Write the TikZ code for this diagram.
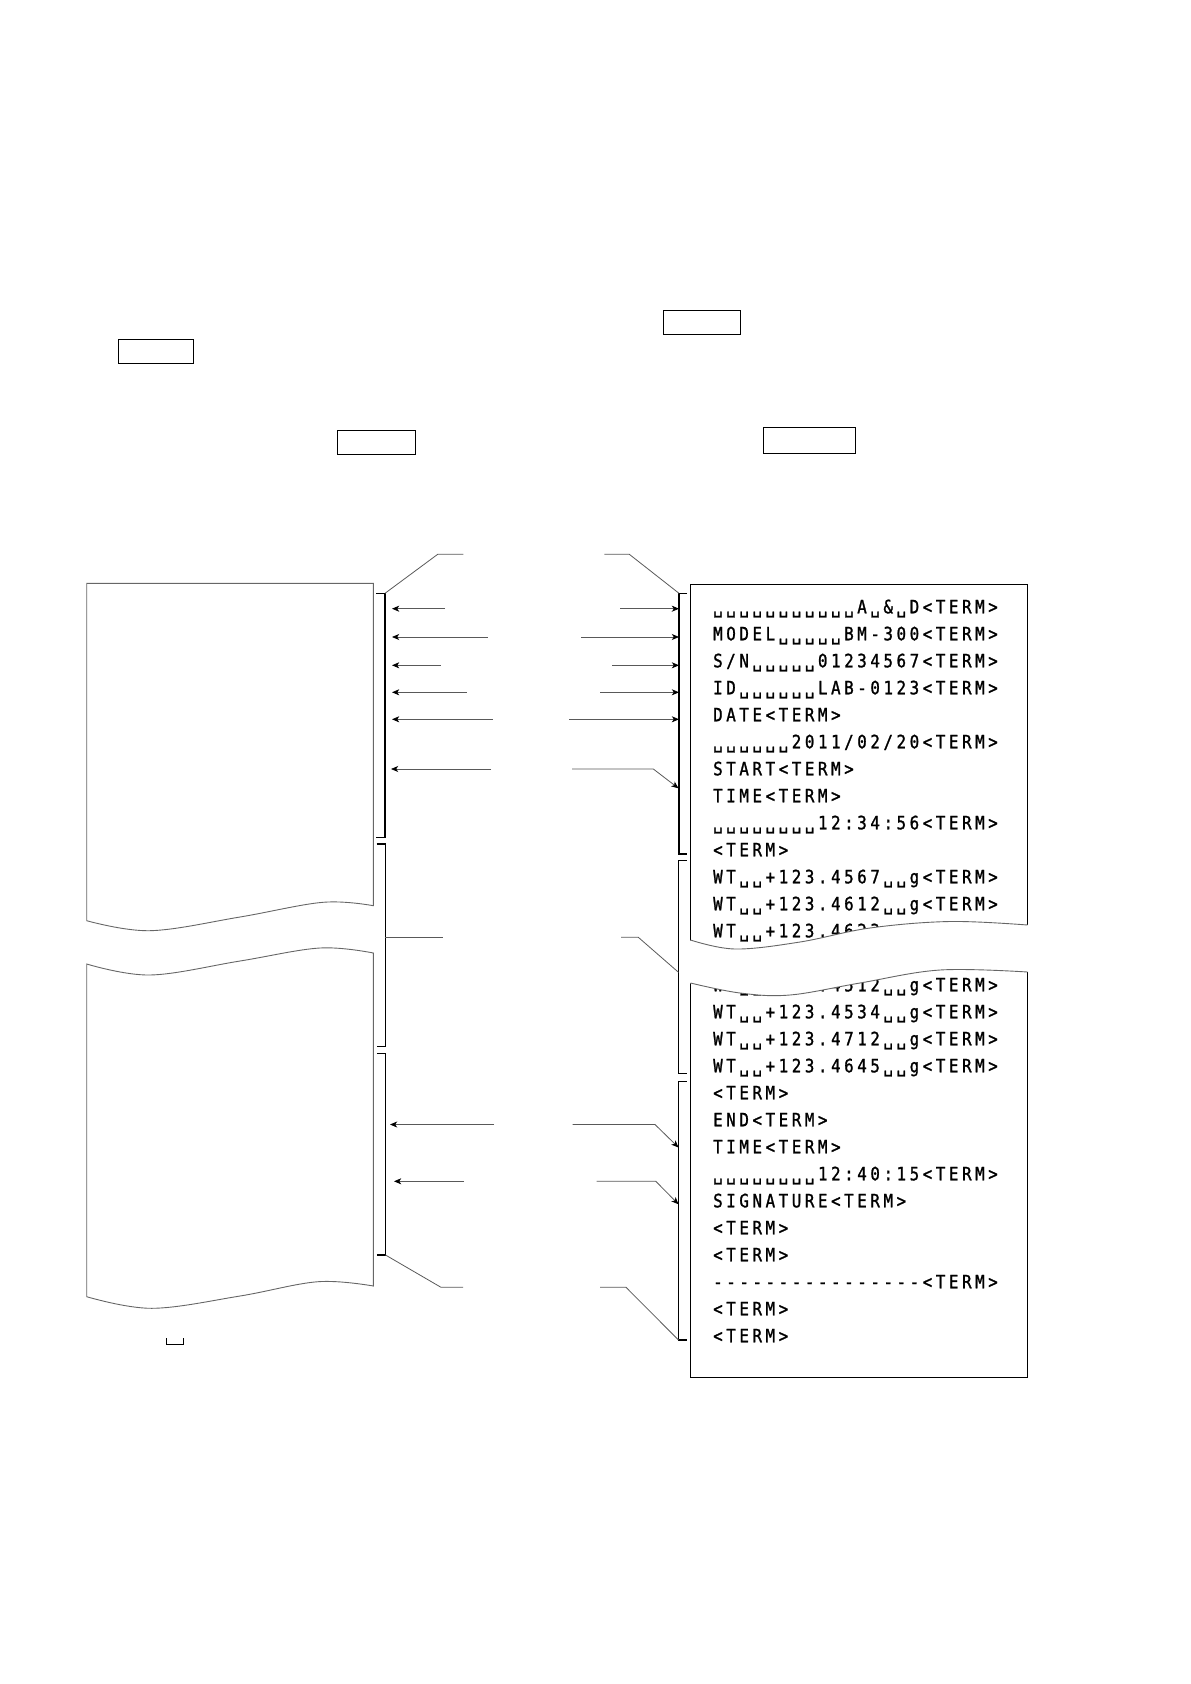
\documentclass[tikz,border=0pt]{standalone}
\usepackage{fontspec}
\usetikzlibrary{arrows.meta}
\newfontfamily\monof{DejaVu Sans Mono}[FakeBold=1.3,FakeStretch=0.86]
\def\mcend{mcend-marker}
\newcommand\mchars[1]{\mcloop#1\mcend}
\def\mcloop#1{\ifx#1\mcend\else\makebox[6.55pt]{#1}\expandafter\mcloop\fi}
\tikzset{
  emptybox/.style={draw=black,line width=0.6pt,inner sep=0pt},
  paper/.style={draw=black!60,line width=0.45pt},
  brk/.style={draw=black,line width=0.55pt},
  lead/.style={draw=black!65,line width=0.4pt},
  arr/.style={draw=black!65,line width=0.4pt,-{Stealth[length=3.6pt,width=3pt,inset=1pt,fill=black,color=black]}},
  txt/.style={anchor=base west,inner sep=0pt,font=\monof\fontsize{9.2pt}{10pt}\selectfont},
}
\begin{document}
\begin{tikzpicture}[x=0.5pt,y=-0.5pt]
\useasboundingbox (0,0) rectangle (1190,1684);
% top empty boxes
\node[emptybox,minimum width=38.5pt,minimum height=12pt] (boxA) at (701.8,322.3) {};
\node[emptybox,minimum width=37.5pt,minimum height=12pt] (boxB) at (155.9,351.3) {};
\node[emptybox,minimum width=38.75pt,minimum height=12pt] (boxC) at (376.5,442.3) {};
\node[emptybox,minimum width=46.2pt,minimum height=13.2pt] (boxD) at (809.5,440.5) {};
% left paper (upper and lower pieces)
\draw[paper] plot[smooth,tension=0.6] coordinates {(86.7,920.7) (150,930.7) (240,917) (323,902.3) (373.3,905.7)} -- (373.3,583.3) -- (86.7,583.3) -- cycle;
\draw[paper] plot[smooth,tension=0.6] coordinates {(86.7,964) (150,975) (240,961) (320,948) (373.3,953)}
  -- plot[smooth,tension=0.6] coordinates {(373.3,1286) (318,1281.7) (240,1296) (151.7,1308.3) (86.7,1296.7)} -- cycle;
% right printout box
\node[draw=black,line width=0.6pt,inner sep=0pt,minimum width=168.5pt,minimum height=396.6pt] (printbox) at (859,980.9) {};
% printout text
\node[txt] (line1) at (711,613.3) {\mchars{␣␣␣␣␣␣␣␣␣␣␣A␣\&␣D<TERM>}};
\node[txt] (line2) at (711,640.3) {\mchars{MODEL␣␣␣␣␣BM-300<TERM>}};
\node[txt] (line3) at (711,667.3) {\mchars{S/N␣␣␣␣␣01234567<TERM>}};
\node[txt] (line4) at (711,694.3) {\mchars{ID␣␣␣␣␣␣LAB-0123<TERM>}};
\node[txt] (line5) at (711,721.3) {\mchars{DATE<TERM>}};
\node[txt] (line6) at (711,748.3) {\mchars{␣␣␣␣␣␣2011/02/20<TERM>}};
\node[txt] (line7) at (711,775.3) {\mchars{START<TERM>}};
\node[txt] (line8) at (711,802.3) {\mchars{TIME<TERM>}};
\node[txt] (line9) at (711,829.3) {\mchars{␣␣␣␣␣␣␣␣12:34:56<TERM>}};
\node[txt] (line10) at (711,856.3) {\mchars{<TERM>}};
\node[txt] (line11) at (711,883.3) {\mchars{WT␣␣+123.4567␣␣g<TERM>}};
\node[txt] (line12) at (711,910.3) {\mchars{WT␣␣+123.4612␣␣g<TERM>}};
\node[txt] (line13) at (711,937.3) {\mchars{WT␣␣+123.4623␣␣g<TERM>}};
\node[txt] (line15) at (711,991.3) {\mchars{WT␣␣+123.4512␣␣g<TERM>}};
\node[txt] (line16) at (711,1018.3) {\mchars{WT␣␣+123.4534␣␣g<TERM>}};
\node[txt] (line17) at (711,1045.3) {\mchars{WT␣␣+123.4712␣␣g<TERM>}};
\node[txt] (line18) at (711,1072.3) {\mchars{WT␣␣+123.4645␣␣g<TERM>}};
\node[txt] (line19) at (711,1099.3) {\mchars{<TERM>}};
\node[txt] (line20) at (711,1126.3) {\mchars{END<TERM>}};
\node[txt] (line21) at (711,1153.3) {\mchars{TIME<TERM>}};
\node[txt] (line22) at (711,1180.3) {\mchars{␣␣␣␣␣␣␣␣12:40:15<TERM>}};
\node[txt] (line23) at (711,1207.3) {\mchars{SIGNATURE<TERM>}};
\node[txt] (line24) at (711,1234.3) {\mchars{<TERM>}};
\node[txt] (line25) at (711,1261.3) {\mchars{<TERM>}};
\node[txt] (line26) at (711,1288.3) {\mchars{----------------<TERM>}};
\node[txt] (line27) at (711,1315.3) {\mchars{<TERM>}};
\node[txt] (line28) at (711,1342.3) {\mchars{<TERM>}};
% break in the printout
\fill[white] plot[smooth,tension=0.6] coordinates {(689,940) (735,949) (800,942) (870,928) (950,921.5) (1029,925)}
  -- plot[smooth,tension=0.6] coordinates {(1029,972) (940,970) (860,983) (790,995) (740,993) (689,983)} -- cycle;
\draw[paper] plot[smooth,tension=0.6] coordinates {(690.5,940) (735,949) (800,942) (870,928) (950,921.5) (1027.5,925)};
\draw[paper] plot[smooth,tension=0.6] coordinates {(690.5,983) (740,993) (790,995) (860,983) (940,970) (1027.5,972)};
% left brackets
\coordinate (lb1t) at (385,593.3); \coordinate (lb1b) at (385,837.3);
\coordinate (lb2t) at (385.3,844); \coordinate (lb2b) at (385.3,1046.7);
\coordinate (lb3t) at (385.5,1053.3); \coordinate (lb3b) at (385.5,1255);
\draw[brk] ([xshift=-4.5pt]lb1t) -- (lb1t) -- (lb1b) -- ([xshift=-4.5pt]lb1b);
\draw[brk] ([xshift=-4.3pt]lb2t) -- (lb2t) -- (lb2b) -- ([xshift=-4.3pt]lb2b);
\draw[brk] ([xshift=-4.3pt]lb3t) -- (lb3t) -- (lb3b) -- ([xshift=-4.3pt]lb3b);
% right brackets
\coordinate (rb1t) at (679,593.3); \coordinate (rb1b) at (679,854);
\coordinate (rb2t) at (678.5,860.7); \coordinate (rb2b) at (678.5,1073.3);
\coordinate (rb3t) at (678.5,1081.7); \coordinate (rb3b) at (678.5,1340);
\draw[brk] ([xshift=4pt]rb1t) -- (rb1t) -- (rb1b) -- ([xshift=4pt]rb1b);
\draw[brk] ([xshift=4.2pt]rb2t) -- (rb2t) -- (rb2b) -- ([xshift=4.2pt]rb2b);
\draw[brk] ([xshift=4.2pt]rb3t) -- (rb3t) -- (rb3b) -- ([xshift=4.2pt]rb3b);
% leaders
\coordinate (ltl1) at (437.7,554.3); \coordinate (ltl2) at (463.3,554.3);
\draw[lead] (lb1t) -- (ltl1) -- (ltl2);
\coordinate (ltr1) at (604.3,554.3); \coordinate (ltr2) at (629.3,554.3);
\draw[lead] (ltr1) -- (ltr2) -- (rb1t);
\coordinate (lml1) at (385.3,937.3); \coordinate (lml2) at (442.7,937.3);
\draw[lead] (lml1) -- (lml2);
\coordinate (lmr1) at (621,937.3); \coordinate (lmr2) at (638.3,937.3); \coordinate (lmr3) at (678.5,972.3);
\draw[lead] (lmr1) -- (lmr2) -- (lmr3);
\coordinate (lbl1) at (441,1287.3); \coordinate (lbl2) at (463,1287.3);
\draw[lead] (lb3b) -- (lbl1) -- (lbl2);
\coordinate (lbr1) at (600,1287.3); \coordinate (lbr2) at (626,1287.3);
\draw[lead] (lbr1) -- (lbr2) -- (rb3b);
% left arrows
\foreach \i/\y/\t/\h in {1/608.7/445/392, 2/637/487.7/392, 3/665.3/440.7/392, 4/692.3/466.7/392, 5/719.3/492.7/392, 6/769/491/391, 7/1124.5/494/390, 8/1181.3/464/394}
 {\coordinate (lat\i) at (\t,\y); \coordinate (lah\i) at (\h,\y); \draw[arr] (lat\i) -- (lah\i);}
% right straight arrows
\foreach \i/\y/\t in {1/608.7/620, 2/637/581, 3/665.3/612, 4/692.3/600, 5/719.3/569}
 {\coordinate (rat\i) at (\t,\y); \coordinate (rah\i) at (679,\y); \draw[arr] (rat\i) -- (rah\i);}
% right bent arrows
\foreach \i/\y/\t/\b/\e in {6/769/572/653.3/788.3, 7/1124.5/572.5/655/1147.5, 8/1181.3/596.7/655.8/1204.3}
 {\coordinate (rat\i) at (\t,\y); \coordinate (rak\i) at (\b,\y); \coordinate (rah\i) at (678.5,\e); \draw[arr] (rat\i) -- (rak\i) -- (rah\i);}
% small space symbol
\coordinate (sp1) at (166.5,1338); \coordinate (sp2) at (166.5,1344.5); \coordinate (sp3) at (183,1344.5); \coordinate (sp4) at (183,1338);
\draw[black,line width=0.5pt] (sp1) -- (sp2) -- (sp3) -- (sp4);
\end{tikzpicture}
\end{document}
